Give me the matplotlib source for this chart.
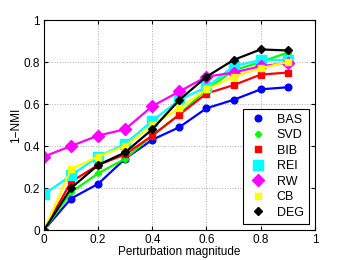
import matplotlib
matplotlib.use("Agg")
import matplotlib.pyplot as plt

plt.rcParams["font.family"] = ["Liberation Sans", "DejaVu Sans"]

x = [0, 0.1, 0.2, 0.3, 0.4, 0.5, 0.6, 0.7, 0.8, 0.9]
bas = [0, 0.15, 0.22, 0.34, 0.43, 0.49, 0.58, 0.62, 0.67, 0.68]
svd = [0, 0.18, 0.27, 0.34, 0.45, 0.55, 0.67, 0.76, 0.80, 0.845]
bib = [0, 0.23, 0.31, 0.36, 0.45, 0.55, 0.65, 0.69, 0.74, 0.75]
rei = [0.17, 0.26, 0.35, 0.41, 0.52, 0.62, 0.68, 0.78, 0.81, 0.81]
rw = [0.35, 0.40, 0.45, 0.48, 0.59, 0.66, 0.73, 0.75, 0.78, 0.795]
cb = [0, 0.29, 0.35, 0.40, 0.50, 0.58, 0.67, 0.73, 0.77, 0.80]
deg = [0, 0.20, 0.31, 0.37, 0.48, 0.62, 0.73, 0.81, 0.86, 0.855]

series = [
    ("BAS", bas, "#0000ff", "o", 4.8),
    ("SVD", svd, "#00ff00", "D", 3.3),
    ("BIB", bib, "#ff0000", "s", 4.0),
    ("REI", rei, "#00ffff", "s", 7.0),
    ("RW", rw, "#ff00ff", "D", 6.0),
    ("CB", cb, "#ffff00", "s", 4.5),
    ("DEG", deg, "#000000", "D", 4.0),
]

fig = plt.figure(figsize=(3.46, 2.6), dpi=100)
ax = fig.add_axes([0.127, 0.115, 0.783, 0.808])

for name, vals, col, mk, ms in series:
    ax.plot(x, vals, color=col, marker=mk, markersize=ms, linewidth=1.6, label=name)

ax.set_xlim(0, 1)
ax.set_ylim(0, 1)
ticks = [0, 0.2, 0.4, 0.6, 0.8, 1]
labels = ["0", "0.2", "0.4", "0.6", "0.8", "1"]
ax.set_xticks(ticks)
ax.set_xticklabels(labels)
ax.set_yticks(ticks)
ax.set_yticklabels(labels)
ax.tick_params(direction="in", labelsize=8.5, length=3, top=True, right=True, pad=3)
ax.grid(True, linestyle=":", color="#b0b0b0", linewidth=0.7)
ax.set_xlabel("Perturbation magnitude", fontsize=8.5, labelpad=0)
ax.set_ylabel("1\u2212NMI", fontsize=8.5, labelpad=1)

leg = ax.legend(loc="lower right", fontsize=9, fancybox=False, framealpha=1,
                edgecolor="black", handlelength=1.6, handletextpad=0.7,
                borderpad=0.4, labelspacing=0.28, borderaxespad=0.5)
leg.get_frame().set_linewidth(0.8)
for h in leg.get_lines():
    h.set_linestyle("")

fig.savefig("out.png", dpi=100)
